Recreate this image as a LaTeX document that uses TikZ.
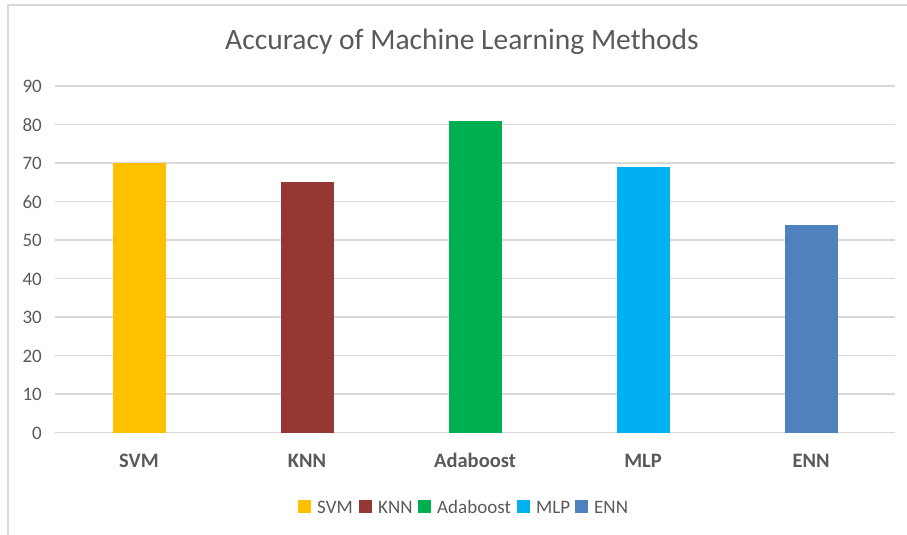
\documentclass[tikz,border=0pt]{standalone}
\usepackage{fontspec}
\setmainfont{Carlito}
\definecolor{txt}{HTML}{595959}
\definecolor{gridc}{HTML}{D9D9D9}
\definecolor{csvm}{HTML}{FFC000}
\definecolor{cknn}{HTML}{953735}
\definecolor{cada}{HTML}{00B050}
\definecolor{cmlp}{HTML}{00B0F0}
\definecolor{cenn}{HTML}{4F81BD}
\tikzset{
  framebox/.style={draw=gridc, line width=1.6pt},
  gridline/.style={draw=gridc, line width=1.5pt},
  ticklab/.style={anchor=base east, inner sep=0pt, font=\fontsize{19}{22}\selectfont, text=txt},
  catlab/.style={anchor=base, inner sep=0pt, font=\fontsize{20.5}{23}\selectfont\bfseries, text=txt},
  leglab/.style={anchor=base west, inner sep=0pt, font=\fontsize{19}{22}\selectfont, text=txt},
  legsq/.style={anchor=north west, inner sep=0pt, minimum width=13pt, minimum height=13pt, draw=none},
  bar/.style={anchor=south, inner sep=0pt, minimum width=53pt, draw=none},
}
\begin{document}
\begin{tikzpicture}[x=1pt,y=-1pt]
\useasboundingbox (0,0) rectangle (907,535);
\draw[framebox] (8,5) rectangle (930,560);
\node[anchor=base, inner sep=0pt, font=\fontsize{29.5}{34}\selectfont, text=txt] (title) at (462,49.5) {Accuracy of Machine Learning Methods};
\foreach \v in {0,...,9}{
  \draw[gridline] (55,{432.7-38.5*\v}) -- (895,{432.7-38.5*\v});
  \pgfmathtruncatemacro{\lab}{10*\v}
  \node[ticklab] (tick\v) at (42,{432.7-38.5*\v+6.3}) {\lab};
}
\node[bar, fill=csvm, minimum height=70*3.85pt] (bsvm) at (139,432.7) {};
\node[bar, fill=cknn, minimum height=65*3.85pt] (bknn) at (307,432.7) {};
\node[bar, fill=cada, minimum height=81*3.85pt] (bada) at (475,432.7) {};
\node[bar, fill=cmlp, minimum height=69*3.85pt] (bmlp) at (643,432.7) {};
\node[bar, fill=cenn, minimum height=54*3.85pt] (benn) at (811,432.7) {};
\node[catlab] (csvm) at (139,467) {SVM};
\node[catlab] (cknn) at (307,467) {KNN};
\node[catlab] (cada) at (475,467) {Adaboost};
\node[catlab] (cmlp) at (643,467) {MLP};
\node[catlab] (cenn) at (811,467) {ENN};
\node[legsq, fill=csvm] (lsvm) at (298,500) {};
\node[leglab] (tsvm) at (317,513.3) {SVM};
\node[legsq, fill=cknn] (lknn) at (359,500) {};
\node[leglab] (tknn) at (378,513.3) {KNN};
\node[legsq, fill=cada] (lada) at (418,500) {};
\node[leglab] (tada) at (437,513.3) {Adaboost};
\node[legsq, fill=cmlp] (lmlp) at (517,500) {};
\node[leglab] (tmlp) at (536,513.3) {MLP};
\node[legsq, fill=cenn] (lenn) at (575,500) {};
\node[leglab] (tenn) at (594,513.3) {ENN};
\end{tikzpicture}
\end{document}
